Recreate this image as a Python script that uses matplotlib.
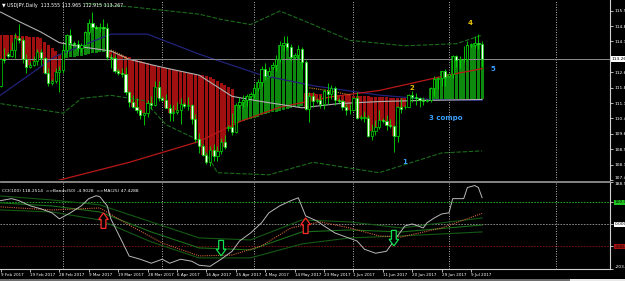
import matplotlib
matplotlib.use("Agg")
import matplotlib.pyplot as plt
import numpy as np
import pandas as pd
from matplotlib.patches import Polygon, Rectangle
from matplotlib.lines import Line2D

# ---------------- data ----------------
dates = [d for d in pd.date_range("2017-02-09", "2017-07-12") if d.weekday() != 5]

opens = [111.95,113.25,113.50,113.40,113.70,114.25,114.20,113.25,112.90,113.00,
         113.15,113.60,113.30,112.60,112.10,112.20,112.65,112.75,113.70,114.40,
         114.05,114.00,113.80,113.95,114.55,115.00,114.80,114.75,114.80,114.75,
         113.35,113.30,112.70,112.60,112.55,111.70,111.20,110.95,110.80,110.55,
         110.65,111.15,111.05,111.90,111.40,111.30,110.90,110.65,110.70,110.80,
         111.10,111.00,111.05,110.40,109.40,109.10,108.65,108.30,108.90,108.60,
         108.85,109.30,109.95,110.00,109.75,111.05,111.20,111.30,111.50,111.60,
         111.85,112.15,112.80,112.45,112.90,113.00,113.25,113.95,114.05,113.85,
         113.35,113.45,113.75,113.10,110.85,111.50,111.25,111.30,111.10,111.75,
         111.60,111.85,111.30,111.25,110.95,110.80,110.80,111.40,110.45,110.45,
         110.45,109.55,109.80,110.00,110.35,110.30,110.10,110.05,109.55,110.95,
         110.95,110.95,111.55,111.45,111.40,111.30,111.25,111.30,111.85,112.30,
         112.35,112.70,112.45,112.55,113.40,113.20,113.25,113.25,113.95,113.95,
         114.05,114.00]
highs = [113.30,113.80,113.60,114.10,114.50,114.95,114.25,113.50,113.10,113.40,
         113.75,113.75,113.35,112.85,112.30,112.85,112.95,114.00,114.45,114.70,
         114.15,114.20,114.05,114.60,115.20,115.50,114.90,115.00,115.20,115.00,
         113.50,113.45,112.80,112.85,112.90,111.75,111.55,111.40,110.85,110.70,
         111.30,111.50,112.20,112.20,111.50,111.60,111.10,111.05,111.20,111.40,
         111.20,111.45,111.10,110.60,109.70,109.20,108.75,109.10,109.20,109.10,
         109.45,109.60,110.10,110.65,111.15,111.45,111.55,111.60,111.70,112.05,
         112.30,112.95,113.05,112.90,113.10,113.45,114.15,114.35,114.35,114.00,
         113.55,113.95,113.85,113.20,111.70,111.70,111.40,111.55,111.80,112.10,
         112.00,111.95,111.40,111.35,111.10,111.10,111.45,111.70,110.55,110.75,
         110.55,110.15,110.35,110.80,110.45,110.55,110.40,110.10,111.00,111.40,
         111.05,111.60,111.75,111.65,111.45,111.45,111.35,111.90,112.45,112.40,
         112.70,112.80,112.60,113.45,113.45,113.40,113.90,114.15,114.05,114.35,
         114.49,114.15]
lows = [111.90,113.05,113.30,113.35,113.30,114.05,113.05,112.60,112.85,112.95,
        113.00,113.00,112.55,111.95,112.00,112.10,111.70,112.60,113.55,113.80,
        113.95,113.65,113.60,113.90,114.45,114.65,114.70,114.55,114.70,113.20,
        112.85,112.60,112.50,112.40,111.55,110.95,110.90,110.65,110.40,110.10,
        110.50,110.85,111.00,111.25,111.25,110.90,110.30,110.30,110.60,110.15,
        110.90,110.80,110.15,109.30,108.75,108.60,108.20,108.13,108.35,108.35,
        108.70,108.95,109.80,109.60,109.70,110.90,110.95,111.00,111.40,111.40,
        111.75,111.95,112.25,112.40,112.80,112.70,113.10,113.65,113.70,113.15,
        113.25,113.25,112.80,110.80,110.25,110.95,111.15,110.90,110.85,111.10,
        111.35,111.05,111.15,110.80,110.55,110.60,110.75,110.40,110.35,110.25,
        109.50,109.35,109.60,109.90,110.20,109.85,109.95,108.80,109.30,110.65,
        110.85,110.95,111.20,111.05,110.95,111.05,111.20,111.20,111.50,111.80,
        111.95,111.95,112.40,112.35,112.90,112.85,113.10,113.20,113.85,113.80,
        113.75,112.92]
closes = [113.25,113.20,113.40,113.70,114.25,114.20,113.25,112.90,113.00,113.15,
          113.60,113.30,112.60,112.10,112.20,112.65,112.75,113.70,114.40,114.05,
          114.00,113.80,113.95,114.55,115.00,114.80,114.75,114.80,114.75,113.35,
          113.30,112.70,112.60,112.55,111.70,111.20,110.95,110.80,110.55,110.65,
          111.15,111.05,111.90,111.40,111.30,110.90,110.65,110.70,110.80,111.10,
          111.00,111.05,110.40,109.40,109.10,108.65,108.30,108.90,108.60,108.85,
          109.30,109.05,110.00,109.75,111.05,111.20,111.30,111.50,111.60,111.85,
          112.15,112.80,112.45,112.70,113.00,113.25,113.95,114.05,113.85,113.35,
          113.45,113.75,113.10,110.85,111.50,111.25,111.30,111.10,111.75,111.60,
          111.85,111.30,111.25,110.95,110.80,110.80,111.40,110.45,110.45,110.45,
          109.55,109.80,110.00,110.35,110.30,110.10,110.05,109.55,110.95,110.85,
          110.95,111.55,111.45,111.40,111.30,111.25,111.30,111.85,112.30,112.35,
          112.70,112.40,112.55,113.40,113.20,113.25,113.25,113.95,113.95,114.05,
          114.00,113.267]

# histogram base (moving-average level the coloured columns hang from)
ribbon_base = [114.42,114.42,114.41,114.40,114.40,114.39,114.38,114.36,114.34,114.32,114.30,114.26,
               114.10,113.95,113.80,113.65,113.50,
               113.30,113.32,113.35,113.38,113.40,113.43,113.46,113.50,113.53,113.56,113.58,113.60,113.62,113.63,
               113.58,113.52,113.46,113.40,113.34,113.28,113.22,113.16,113.10,113.05,113.00,112.96,112.92,
               112.88,112.84,112.80,112.76,112.72,112.68,112.64,112.60,112.57,112.54,112.51,112.48,112.45,
               112.40,112.30,112.20,112.10,112.00,111.90,111.80,
               110.20,110.25,110.30,110.35,110.40,110.45,110.50,110.55,110.60,110.65,110.70,110.74,110.78,
               110.82,110.86,110.90,110.94,110.97,111.00,
               111.62,111.62,111.61,111.60,111.60,111.59,111.58,111.57,111.56,111.55,111.54,111.53,111.52,
               111.51,111.50,111.49,111.48,111.47,111.46,111.45,111.44,111.43,111.42,111.41,111.40,111.39,111.38,111.37,
               111.36,111.35,111.35,111.34,111.34,111.33,111.33,111.33,111.32,111.32,111.32,111.32,111.32,
               111.32,111.32,111.33,111.33,111.34,111.34,111.35,111.35]

# moving-average lines (bar index, price)
ma50_idx = [0, 5, 11, 16, 22, 30, 35, 41, 46, 54, 63, 71, 82, 92, 103, 114, 131]
ma50_val = [115.52, 115.07, 114.56, 114.05, 113.85, 113.65, 113.25, 112.99, 112.79, 112.49,
            111.47, 111.22, 110.92, 111.12, 111.22, 111.27, 111.32]
ma100_idx = [0, 15, 30, 40, 54, 60, 71, 85, 103, 117, 131]
ma100_val = [111.53, 113.40, 114.46, 114.46, 113.50, 113.14, 112.49, 111.98, 111.53, 111.32, 111.27]
ma200_idx = [15, 35, 54, 65, 76, 90, 103, 122, 131]
ma200_val = [107.40, 108.30, 109.30, 110.25, 110.95, 111.45, 111.75, 112.50, 112.80]
bb_up_idx = [23, 35, 54, 60, 68, 76, 85, 95, 110, 124, 131]
bb_up_val = [115.93, 115.78, 115.42, 115.17, 114.92, 115.57, 114.92, 114.16, 113.90, 114.00, 114.41]
bb_lo_idx = [0, 17, 22, 30, 39, 45, 54, 59, 73, 85, 103, 120, 131]
bb_lo_val = [111.12, 110.66, 111.37, 111.52, 111.27, 110.11, 109.35, 107.80, 107.70, 108.30, 107.80, 108.75, 108.85]
fast_seg1_idx = [30, 33, 35]
fast_seg1_val = [113.70, 113.45, 113.22]
fast_seg2_idx = [84, 90, 95]
fast_seg2_val = [111.88, 111.72, 111.54]

# CCI(100) and its companions
cci_idx = [0, 3, 5, 8, 11, 14, 16, 19, 22, 24, 26, 27, 29, 30, 33, 35, 38, 41, 44, 46, 49, 52, 54, 57,
           60, 63, 65, 68, 71, 73, 76, 79, 81, 83, 86, 88, 91, 94, 97, 99, 102, 105, 107, 110, 112,
           115, 116, 118, 120, 122, 123, 126, 127, 129, 130, 131]
cci_val = [105, 114, 105, 82, 68, 50, 23, 50, 82, 114, 127, 123, 82, 23, -77, -145, -159, -177, -159,
           -177, -159, -168, -186, -191, -159, -123, -77, -41, 5, 50, 82, 105, 118, 36, 14, -9, -41,
           -59, -77, -114, -132, -123, -77, -9, 0, -18, 5, 27, 45, 50, 114, 114, 164, 173, 164, 118.25]
band_idx = [0, 14, 27, 41, 54, 68, 82, 95, 109, 131]
band_up = [126, 108, 86, 9, -63, -72, 18, 9, -18, 27]
band_mid = [95, 81, 54, -36, -108, -117, -36, -27, -36, -4.9]
band_lo = [63, 54, 18, -81, -153, -153, -90, -63, -54, -36]
cci_ma_idx = [0, 14, 27, 35, 44, 54, 63, 71, 79, 87, 95, 103, 109, 120, 131]
cci_ma_val = [77, 63, 72, -5, -86, -144, -140, -99, -18, 9, -18, -54, -59, -18, 47.43]

# signal arrows: (bar index, tip value, direction)
signals = [(28, 50, "down"), (83, 27, "down"), (60, -144, "up"), (107, -99, "up")]

# wave labels: (text, bar index, price, colour)
waves = [("1", 109.3, 108.3, "#3aa0ff"), ("2", 111.2, 111.85, "#e8c000"),
         ("3 compo", 116.5, 110.45, "#3aa0ff"), ("4", 127.0, 115.0, "#e8c000"),
         ("5", 133.3, 112.80, "#3aa0ff")]

month_starts = [17, 44, 69, 96, 122, 151]
tick_idx = list(range(0, 129, 8))

main_ticks = [115.590, 114.850, 114.110, 112.630, 111.890, 111.150, 110.410,
              109.670, 108.930, 108.190, 107.450]
last_price = 113.267

# ---------------- drawing ----------------
W, H = 625, 281
fig = plt.figure(figsize=(W / 100, H / 100), dpi=100, facecolor="black")
plt.rcParams["font.family"] = ["DejaVu Sans"]

ax1 = fig.add_axes([0, 1 - 180 / H, 610 / W, 180 / H], facecolor="black")
ax2 = fig.add_axes([0, 1 - 269 / H, 610 / W, 87 / H], facecolor="black")

x = np.arange(len(closes))
o = np.array(opens); h = np.array(highs); l = np.array(lows); c = np.array(closes)
base = np.array(ribbon_base)

xl = (-0.15, 165.8)
for ax in (ax1, ax2):
    ax.set_xlim(*xl)
    for s in ("left", "top"):
        ax.spines[s].set_visible(False)
    ax.spines["right"].set_color("#d0d0d0")
    ax.spines["right"].set_linewidth(0.8)
    for m in month_starts:
        ax.axvline(m, color="#c8c8c8", lw=0.6, ls=(0, (1.2, 1.8)), zorder=1)

ax1.spines["bottom"].set_visible(False)
ax1.set_ylim(107.46, 116.10)

# ribbon columns
rib_col = np.where(c >= base, "#0e8a0e", "#a01010")
ax1.bar(x, c - base, bottom=base, width=0.82, color=rib_col, lw=0, zorder=2)

# lines
ax1.plot(ma100_idx, ma100_val, color="#22227a", lw=0.9, zorder=3)
ax1.plot(ma200_idx, ma200_val, color="#b81818", lw=0.9, zorder=3)
ax1.plot(ma50_idx, ma50_val, color="#b0b0b0", lw=0.8, zorder=3)
ax1.plot(bb_up_idx, bb_up_val, color="#1c6a1c", lw=0.8, ls=(0, (4, 1.5)), zorder=3)
ax1.plot(bb_lo_idx, bb_lo_val, color="#1c6a1c", lw=0.8, ls=(0, (4, 1.5)), zorder=3)
ax1.plot(fast_seg1_idx, fast_seg1_val, color="#d08a20", lw=0.8, ls=(0, (1, 1)), zorder=3)
ax1.plot(fast_seg2_idx, fast_seg2_val, color="#d08a20", lw=0.8, ls=(0, (1, 1)), zorder=3)

# candles
ax1.vlines(x, l, h, color="#00e000", lw=0.6, zorder=4)
bull = c >= o
body_lo = np.minimum(o, c)
body_h = np.maximum(np.abs(c - o), 0.03)
ax1.bar(x, body_h, bottom=body_lo, width=0.6,
        color=np.where(bull, "black", "white"), edgecolor="#00e000", lw=0.5, zorder=5)

# bid line
ax1.axhline(last_price, color="#8c8c8c", lw=0.7, zorder=3)

# wave labels
for t, xi, yv, col in waves:
    ax1.text(xi, yv, t, color=col, fontsize=5, fontweight="bold", ha="left", va="center", zorder=6)

# header
ax1.text(0.004, 0.972, "\u25bc USDJPY,Daily  113.555 113.965 112.915 113.267", transform=ax1.transAxes,
         color="white", fontsize=3.4, ha="left", va="center")

ax1.yaxis.tick_right()
ax1.set_yticks(main_ticks)
ax1.set_yticklabels([f"{v:.3f}" for v in main_ticks])
ax1.tick_params(axis="y", colors="white", labelsize=3.2, length=2, width=0.5, pad=1.2)
ax1.get_yticklabels()[-1].set_va("bottom")
ax1.annotate(f"{last_price:.3f}", xy=(1, last_price), xycoords=("axes fraction", "data"),
             xytext=(1.2, 0), textcoords="offset points", color="black", fontsize=3.2,
             va="center", ha="left", bbox=dict(fc="white", ec="none", pad=0.6), annotation_clip=False)
ax1.tick_params(axis="x", bottom=False, labelbottom=False)

# ---- CCI pane ----
ax2.set_ylim(-203.03, 188.95)
ax2.axhline(100, color="#20c020", lw=0.6, ls=(0, (2, 1.5)))
ax2.axhline(0, color="#9a9a9a", lw=0.6, ls=(0, (2, 1.5)))
ax2.axhline(-100, color="#8a1010", lw=0.6, ls=(0, (2, 1.5)))
ax2.plot(band_idx, band_up, color="#145a14", lw=0.8)
ax2.plot(band_idx, band_mid, color="#1b6e1b", lw=0.8)
ax2.plot(band_idx, band_lo, color="#145a14", lw=0.8)
ax2.plot(cci_ma_idx, cci_ma_val, color="#d0603a", lw=0.8, ls=(0, (1, 1)))
ax2.plot(cci_idx, cci_val, color="#b8b8b8", lw=0.7)

sx = 1.3   # half width of arrow in bar units
for bi, tip, d in signals:
    s = -1 if d == "down" else 1
    head = 30 * s
    tot = 70 * s
    pts = [(bi, tip), (bi - sx, tip + head), (bi - sx / 2, tip + head), (bi - sx / 2, tip + tot),
           (bi + sx / 2, tip + tot), (bi + sx / 2, tip + head), (bi + sx, tip + head)]
    col = "#ff2a2a" if d == "down" else "#10e050"
    ax2.add_patch(Polygon(pts, closed=True, fc="black", ec=col, lw=0.9, zorder=6))

ax2.text(0.004, 0.9, "CCI(100) 118.2514  =>Bands(50) -4.9028  =>MA(25) 47.4288",
         transform=ax2.transAxes, color="white", fontsize=3.2, ha="left", va="center")

ax2.yaxis.tick_right()
cci_ticks = [188.95, 100, 0, -100, -203.03]
ax2.set_yticks(cci_ticks)
ax2.set_yticklabels(["188.9495", "100.0000", "0.0000", "-100.0000", "-203.0303"])
ax2.tick_params(axis="y", colors="white", labelsize=3.2, length=2, width=0.5, pad=1.2)
labs = ax2.get_yticklabels()
labs[0].set_va("top")
labs[1].set_bbox(dict(fc="#22c822", ec="none", pad=0.5)); labs[1].set_color("black")
labs[2].set_bbox(dict(fc="white", ec="none", pad=0.5)); labs[2].set_color("black")
labs[3].set_bbox(dict(fc="#a01010", ec="none", pad=0.5)); labs[3].set_color("black")
labs[4].set_va("bottom")

ax2.spines["bottom"].set_color("#d0d0d0")
ax2.spines["bottom"].set_linewidth(0.8)
ax2.set_xticks(tick_idx)
ax2.set_xticklabels([f"{dates[i].day} {dates[i].strftime('%b %Y')}" for i in tick_idx])
ax2.tick_params(axis="x", colors="white", labelsize=3.0, length=2, width=0.5, pad=1.2)
for t in ax2.get_xticklabels():
    t.set_ha("left")

# pane separator
for yy in (180.5, 182.0):
    fig.add_artist(Line2D([0, 610 / W], [1 - yy / H, 1 - yy / H], color="#9a9a9a", lw=0.6))
# bottom tab strip
fig.add_artist(Rectangle((0, 0), 1, 2.2 / H, transform=fig.transFigure, color="#6e6e6e", lw=0))
fig.add_artist(Rectangle((570 / W, 0), 55 / W, 2.2 / H, transform=fig.transFigure, color="#e8e8e8", lw=0))

fig.savefig("out.png", dpi=100, facecolor="black")
